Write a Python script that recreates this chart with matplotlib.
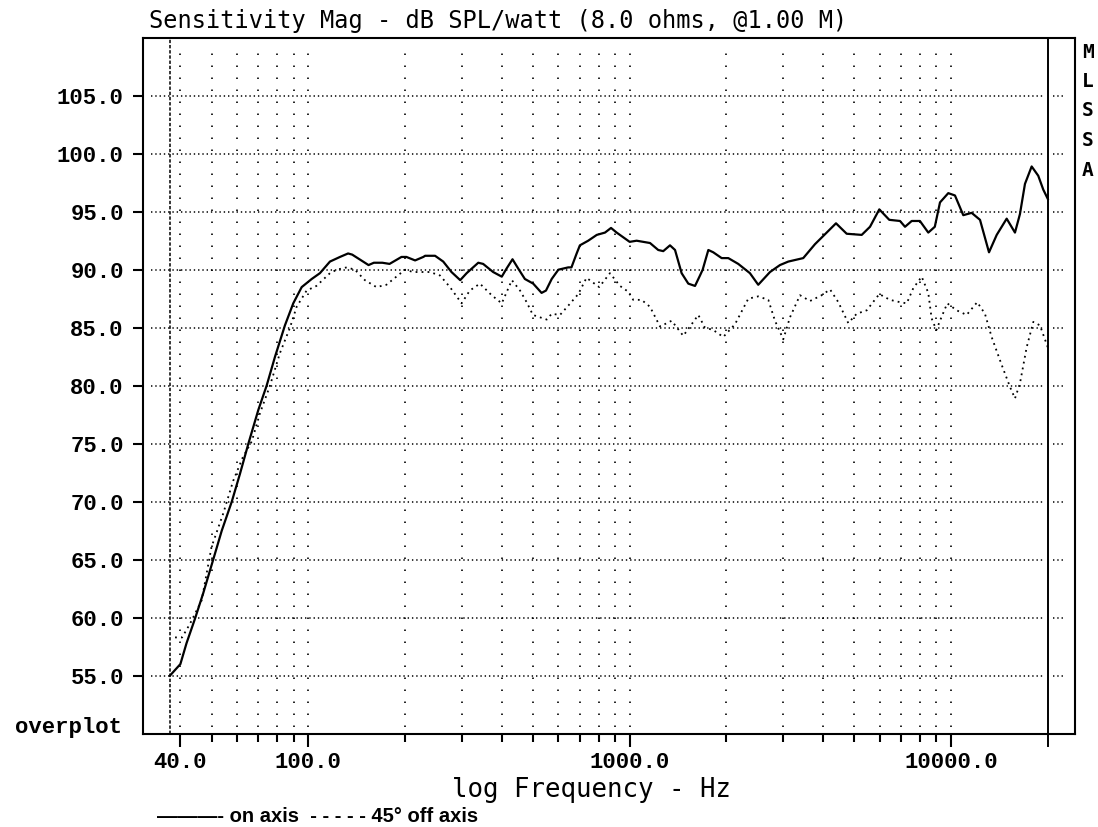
import matplotlib
matplotlib.use("Agg")
import matplotlib.pyplot as plt
from matplotlib.ticker import NullFormatter

# on axis response (Hz, dB)
on_freq = [37.1, 40, 41.8, 44.4, 47.1, 50.6, 53.8, 57.8, 61.3, 65.1, 69.9, 74.2,
           78.8, 84.6, 89.8, 95.4, 102.5, 108.7, 116.8, 125.5, 133, 137, 154, 160,
           170, 179, 195, 202, 215, 228, 231, 248, 263, 279, 297, 311, 338, 350,
           376, 400, 414, 432, 450, 472, 501, 532, 549, 572, 600, 644, 659, 684,
           700, 743, 790, 838, 875, 911, 1000, 1051, 1157, 1227, 1272, 1335, 1384,
           1451, 1522, 1597, 1655, 1687, 1757, 1820, 1933, 2027, 2177, 2367, 2512,
           2733, 2935, 3115, 3468, 3772, 4102, 4385, 4734, 5272, 5595, 5980, 6423,
           6936, 7190, 7543, 8000, 8494, 8900, 9237, 9802, 10283, 10914, 11589,
           12303, 13123, 13868, 14894, 15806, 16381, 16980, 17815, 18675, 19362, 20000]
on_db = [55.0, 56.0, 57.8, 59.9, 62.1, 65.0, 67.5, 70.0, 72.4, 75.0, 77.9, 80.0,
         82.5, 85.2, 87.1, 88.5, 89.2, 89.7, 90.7, 91.1, 91.4, 91.3, 90.4, 90.6,
         90.6, 90.5, 91.1, 91.1, 90.8, 91.1, 91.2, 91.2, 90.7, 89.8, 89.1, 89.7, 90.6, 90.5,
         89.8, 89.4, 90.1, 90.9, 90.1, 89.2, 88.8, 88.0, 88.2, 89.2, 90.0, 90.2, 90.2, 91.4,
         92.1, 92.5, 93.0, 93.2, 93.6, 93.2, 92.4, 92.5, 92.3, 91.7, 91.6, 92.1, 91.7,
         89.7, 88.8, 88.6, 89.5, 90.0, 91.7, 91.5, 91.0, 91.0, 90.5, 89.7, 88.7,
         89.8, 90.4, 90.7, 91.0, 92.2, 93.2, 94.0, 93.1, 93.0, 93.7, 95.2, 94.3,
         94.2, 93.7, 94.2, 94.2, 93.2, 93.7, 95.8, 96.6, 96.4, 94.7, 94.9,
         94.3, 91.5, 93.0, 94.4, 93.2, 94.8, 97.4, 98.9, 98.1, 96.9, 96.1]

# 45 deg off axis response (Hz, dB)
off_freq = [38.5, 40.5, 42.9, 46.6, 50, 54.4, 58.4, 62.5, 66.7, 70.7, 76.0, 81.6,
            87.7, 92.0, 98.8, 106, 116.8, 122.6, 131.7, 139.7, 150, 163, 175, 188,
            200, 212, 239, 257, 276, 300, 318, 342, 372, 400, 430, 456, 478, 500,
            552, 572, 607, 644, 692, 734, 804, 868, 933, 990, 1026, 1089, 1157,
            1243, 1351, 1468, 1559, 1635, 1715, 1820, 1955, 2127, 2339, 2512, 2700,
            2832, 3006, 3154, 3388, 3640, 3958, 4202, 4459, 4788, 5085, 5465, 5980,
            6455, 6936, 7278, 7627, 8101, 8494, 8700, 9000, 9237, 9731, 10405,
            11180, 12060, 12748, 13372, 14368, 15252, 15806, 16381, 17185, 18025,
            18905, 20000]
off_db = [58.3, 58.3, 59.5, 61.5, 66.1, 69.0, 71.8, 73.8, 75.2, 77.6, 80.0, 82.8,
          85.0, 86.8, 88.2, 88.6, 89.7, 90.0, 90.2, 90.0, 89.1, 88.5, 88.7, 89.4,
          90.0, 89.8, 89.8, 89.5, 88.5, 87.1, 88.2, 88.8, 87.8, 87.1, 89.1, 88.2, 87.2, 86.1,
          85.7, 86.2, 86.1, 86.9, 87.9, 89.3, 88.5, 89.7, 88.6, 88.1, 87.4, 87.4, 86.8,
          85.1, 85.6, 84.3, 85.3, 86.1, 85.0, 84.8, 84.2, 85.3, 87.5, 87.7, 87.4,
          85.6, 84.0, 85.9, 87.8, 87.3, 87.8, 88.3, 87.2, 85.4, 86.2, 86.5, 87.9,
          87.4, 87.2, 87.1, 88.4, 89.4, 88.0, 85.8, 84.8, 85.6, 87.1, 86.5,
          86.1, 87.2, 86.2, 84.2, 81.8, 79.9, 78.9, 80.2, 83.3, 85.5,
          85.2, 83.3]

y_ticks = [55, 60, 65, 70, 75, 80, 85, 90, 95, 100, 105]
x_major = [40, 100, 1000, 10000]
x_minor = [50, 60, 70, 80, 90, 200, 300, 400, 500, 600, 700, 800, 900,
           2000, 3000, 4000, 5000, 6000, 7000, 8000, 9000]
gate_freq = 37.1
top_freq = 20000

W, H = 1098, 827
fig = plt.figure(figsize=(W / 100, H / 100), dpi=100)
ax = fig.add_axes([143.3 / W, 1 - 733.7 / H, (1075 - 143.3) / W, (733.7 - 37.7) / H])
ax.set_xscale("log")
ax.set_xlim(30.67, 24300)
ax.set_ylim(50, 110)

for s in ax.spines.values():
    s.set_linewidth(1.5)

# grid
grid_f = [f for f in sorted(x_major + x_minor) if f <= 10000]
ax.vlines(grid_f, 50.6, 109.2, colors="black", linewidth=1.2,
          linestyles=(0, (0.9, 6.3)))
ax.hlines(y_ticks, 32.4, 19450, colors="black", linewidth=1.1,
          linestyles=(0, (0.9, 1.9)))
ax.hlines(y_ticks, 20750, 22600, colors="black", linewidth=1.1,
          linestyles=(0, (0.9, 1.9)))

ax.axvline(gate_freq, color="black", linewidth=1.1, linestyle=(0, (2.2, 1.2)))
ax.axvline(top_freq, ymin=-0.018, ymax=1, color="black", linewidth=1.4, clip_on=False)

# curves
ax.plot(on_freq, on_db, color="black", linewidth=1.6)
ax.plot(off_freq, off_db, color="black", linewidth=1.3, linestyle=(0, (1, 2.3)))

# ticks
mono_bold = {"family": "Liberation Mono", "weight": "bold", "size": 16}
ax.set_yticks(y_ticks)
ax.set_yticklabels([f"{v:.1f}" for v in y_ticks], fontdict=mono_bold)
ax.set_xticks(x_major)
ax.set_xticklabels([f"{v:.1f}" for v in x_major], fontdict=mono_bold)
ax.set_xticks(x_minor, minor=True)
ax.xaxis.set_minor_formatter(NullFormatter())
ax.tick_params(axis="y", direction="out", length=7, width=1.5, pad=7)
ax.tick_params(axis="x", which="major", direction="out", length=9.5, width=1.5, pad=4)
ax.tick_params(axis="x", which="minor", direction="out", length=5.5, width=1.5)
ax.tick_params(axis="y", which="minor", left=False)

# texts
fig.text(498 / W, 1 - 21 / H, "Sensitivity Mag - dB SPL/watt (8.0 ohms, @1.00 M)",
         family="DejaVu Sans Mono", size=17, ha="center", va="center")
fig.text(592 / W, 1 - 790 / H, "log Frequency - Hz",
         family="DejaVu Sans Mono", size=18.5, ha="center", va="center")
fig.text(122 / W, 1 - 728 / H, "overplot", family="Liberation Mono",
         weight="bold", size=16, ha="right", va="center")
for i, ch in enumerate("MLSSA"):
    fig.text(1088 / W, 1 - (52 + i * 29.5) / H, ch, family="DejaVu Sans Mono",
             weight="bold", size=14, ha="center", va="center")
fig.text(157 / W, 1 - 817 / H, "\u2014\u2014\u2014- on axis  - - - - - 45\u00b0 off axis",
         family="Liberation Sans", weight="bold", size=14.5, ha="left", va="center")

fig.savefig("out.png", dpi=100)
